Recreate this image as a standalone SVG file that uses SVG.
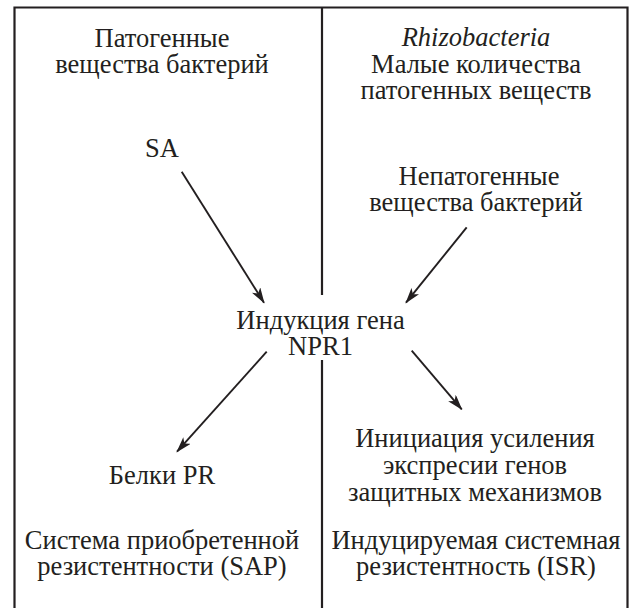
<svg xmlns="http://www.w3.org/2000/svg" width="633" height="608" viewBox="0 0 633 608">
<defs>
<style>
text{font-family:"Liberation Serif","Times New Roman",serif;font-size:26.5px;fill:#231f20;text-anchor:middle}
.it{font-style:italic}
.frame{fill:none;stroke:#231f20;stroke-width:2.2}
.arr{fill:none;stroke:#231f20;stroke-width:1.9;marker-end:url(#ah)}
</style>
<marker id="ah" viewBox="0 0 16 10" markerWidth="16" markerHeight="10" refX="15" refY="5" orient="auto" markerUnits="userSpaceOnUse">
<path d="M0,0 L16,5 L0,10 L4,5 Z" fill="#231f20"/>
</marker>
</defs>
<rect width="633" height="608" fill="#fff"/>
<g id="frame">
<path class="frame" d="M14.5,608 V7.5 H627.5 V608"/>
<path class="frame" d="M322,7.5 V295 M322,360 V608"/>
</g>
<g id="n-pathogenic">
<text x="162" y="46.5">Патогенные</text>
<text x="162" y="72.5">вещества бактерий</text>
</g>
<g id="n-rhizo">
<text x="476" y="46" class="it">Rhizobacteria</text>
<text x="476" y="72.5">Малые количества</text>
<text x="476" y="99">патогенных веществ</text>
</g>
<g id="n-sa">
<text x="162" y="156.5">SA</text>
</g>
<g id="n-nonpath">
<text x="479" y="184.5">Непатогенные</text>
<text x="476" y="211">вещества бактерий</text>
</g>
<g id="n-npr1">
<text x="320.5" y="329">Индукция гена</text>
<text x="320.5" y="355">NPR1</text>
</g>
<g id="n-pr">
<text x="162" y="483.5">Белки PR</text>
</g>
<g id="n-init">
<text x="475" y="447">Инициация усиления</text>
<text x="475" y="474">экспресии генов</text>
<text x="475" y="501">защитных механизмов</text>
</g>
<g id="n-sap">
<text x="162" y="548.5">Система приобретенной</text>
<text x="162" y="575">резистентности (SAP)</text>
</g>
<g id="n-isr">
<text x="476" y="548.5">Индуцируемая системная</text>
<text x="476" y="575">резистентность (ISR)</text>
</g>
<g id="connectors">
<line class="arr" x1="181.7" y1="171.7" x2="264" y2="302.7"/>
<line class="arr" x1="466.7" y1="227.3" x2="406" y2="302.7"/>
<line class="arr" x1="266.7" y1="351.7" x2="177" y2="451.7"/>
<line class="arr" x1="411.7" y1="350.7" x2="461.7" y2="409.3"/>
</g>
</svg>
